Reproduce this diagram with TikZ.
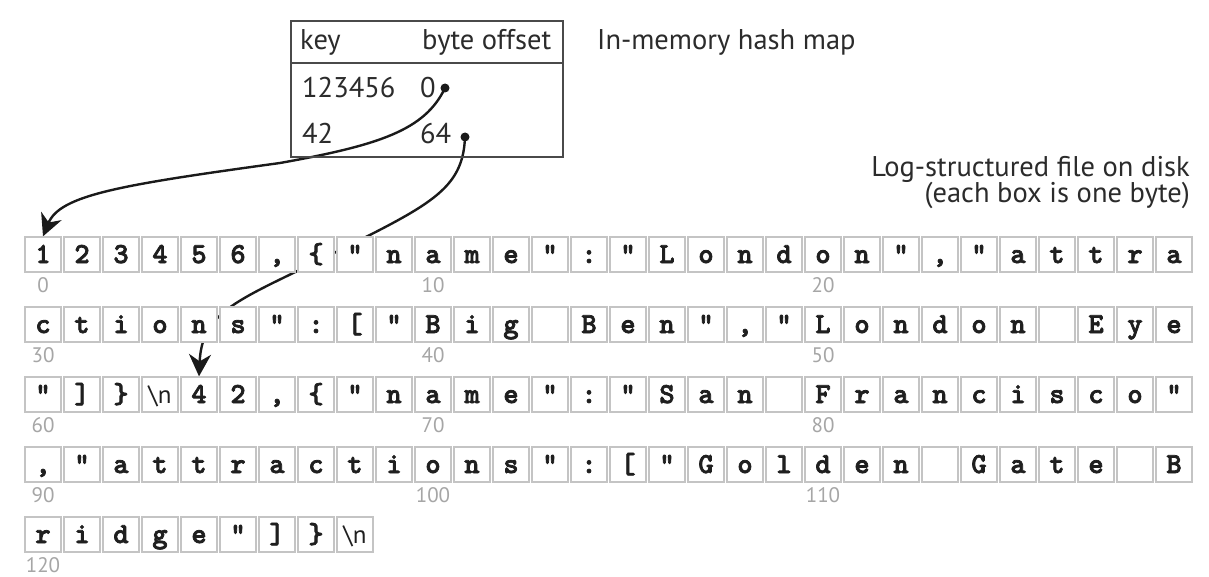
\documentclass[tikz,border=0pt]{standalone}
\usepackage{fontspec}
\setmainfont{PT Sans}
\newfontfamily\cellfont{lmmonolt10-bold.otf}[FakeBold=2.5]
\usetikzlibrary{arrows.meta}
\pgfdeclarelayer{back}
\pgfdeclarelayer{wires}
\pgfsetlayers{back,wires,main}
\definecolor{ink}{HTML}{2B2B2B}
\definecolor{cellgray}{HTML}{C4C4C4}
\definecolor{idxgray}{HTML}{A6A6A6}
\definecolor{framegray}{HTML}{4A4A4A}
\definecolor{wire}{HTML}{1A1A1A}

\tikzset{
  bytecell/.style={draw=cellgray, line width=1.3pt, fill=white,
    minimum width=36pt, minimum height=35pt, inner sep=0pt,
    text height=26pt, text depth=9pt, text=black!88,
    font=\cellfont\fontsize{29}{29}\selectfont},
  idxlabel/.style={anchor=base, inner sep=0pt, text=idxgray,
    font=\fontsize{21}{21}\selectfont},
  plaintext/.style={anchor=base west, inner sep=0pt, text=ink,
    font=\fontsize{28.5}{28.5}\selectfont},
  caption/.style={anchor=base east, inner sep=0pt, text=ink,
    font=\fontsize{28.5}{28.5}\selectfont},
  mapframe/.style={draw=framegray, line width=1.4pt, inner sep=0pt,
    minimum width=272pt, minimum height=136pt},
  pin/.style={circle, fill=wire, inner sep=0pt, minimum size=9pt},
  pointer/.style={draw=wire, line width=2.4pt,
    -{Stealth[length=22pt, width=22pt, inset=7pt]}},
}

% newline byte, set in the sans face
\newcommand\nlbyte{{\rmfamily\mdseries\fontsize{25}{25}\selectfont\textbackslash n}}

% one row of byte cells: #1 row, #2 first byte index, #3 characters
\newcommand\byterow[3]{%
  \foreach \ch [count=\k from 0] in {#3} {
    \pgfmathtruncatemacro\idx{#2+\k}
    \node[bytecell] (c\idx) at ({25+39*\k+18},{237+70*#1+17.5}) {\ch};
  }}

\begin{document}
\begin{tikzpicture}[x=1pt, y=-1pt]
  \begin{pgfonlayer}{back}
    \fill[white] (0,0) rectangle (1209,577);
  \end{pgfonlayer}
  \useasboundingbox (0,0) rectangle (1209,577);

  % hash map
  \node[mapframe] (map) at (427,89) {};
  \coordinate (hdr) at (0,63);
  \draw[framegray, line width=1.4pt] (map.west |- hdr) -- (map.east |- hdr);
  \node[plaintext] (hkey) at (300,50) {key};
  \node[plaintext] (hoff) at (422,50) {byte offset};
  \node[plaintext] (k1) at (302,98) {123456};
  \node[plaintext] (v1) at (420,98) {0};
  \node[plaintext] (k2) at (302,144) {42};
  \node[plaintext] (v2) at (420,144) {64};
  \node[pin] (off0) at (445,88) {};
  \node[pin] (off64) at (465,137) {};
  \node[plaintext] (maptitle) at (597,50) {In-memory hash map};

  \node[caption] (logtitle) at (1190,177) {Log-structured file on disk};
  \node[caption] (lognote) at (1190,203) {(each box is one byte)};

  % the log file, one byte per box
  \byterow{0}{0}{1,2,3,4,5,6,{,},\{,",n,a,m,e,",:,",L,o,n,d,o,n,",{,},",a,t,t,r,a}
  \byterow{1}{30}{c,t,i,o,n,s,",:,[,",B,i,g,{},B,e,n,",{,},",L,o,n,d,o,n,{},E,y,e}
  \byterow{2}{60}{",],\},\nlbyte,4,2,{,},\{,",n,a,m,e,",:,",S,a,n,{},F,r,a,n,c,i,s,c,o,"}
  \byterow{3}{90}{{,},",a,t,t,r,a,c,t,i,o,n,s,",:,[,",G,o,l,d,e,n,{},G,a,t,e,{},B}
  \byterow{4}{120}{r,i,d,g,e,",],\},\nlbyte}

  % byte offsets under the rows
  \foreach \r in {0,...,3} {
    \foreach \c in {0,10,20} {
      \pgfmathtruncatemacro\num{30*\r+\c}
      \node[idxlabel] (n\num) at ({25+39*\c+18},{237+70*\r+55.5}) {\num};
    }
  }
  \node[idxlabel] (n120) at (43,{237+280+55.5}) {120};

  % pointers from the hash map into the file
  \begin{pgfonlayer}{wires}
    \draw[pointer] (off0.center) .. controls (425,130) and (380,145) .. (280,163)
      .. controls (120,185) and (60,195) .. (c0.north);
    \draw[pointer] (off64.center) .. controls (463,190) and (430,205) .. (330,255)
      .. controls (240,300) and (202,310) .. (c64.north);
  \end{pgfonlayer}
\end{tikzpicture}
\end{document}
